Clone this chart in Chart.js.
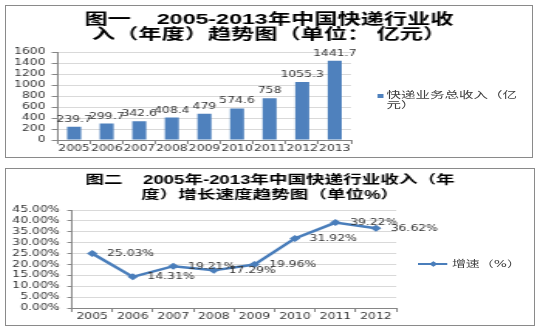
<!DOCTYPE html>
<html><head><meta charset="utf-8">
<script src="https://cdn.jsdelivr.net/npm/chart.js@4.4.0/dist/chart.umd.min.js"></script>
<style>
body{margin:0;background:#fff;width:540px;height:332px;overflow:hidden;position:relative}
.box{position:absolute;border:1px solid #8a8a8a;overflow:hidden;background:#fff}
.st{position:absolute;left:0;top:0;transform-origin:0 0}
.lg{position:absolute;font-family:"DejaVu Sans","Noto Sans CJK SC",sans-serif;color:#404040;white-space:nowrap}
</style></head><body>
<div class="box" style="left:5px;top:5px;width:526px;height:151px">
 <div class="st" id="st1" style="width:340px;height:151px;transform:scaleX(1.5471)">
  <canvas id="c1" width="340" height="151"></canvas>
  <div class="lg" style="left:240px;top:88px;width:4px;height:4px;background:#4F81BD"></div>
  <div class="lg" style="left:246px;top:84px;font-size:9.4px;line-height:10px">快递业务总收入（亿<br>元）</div>
 </div>
</div>
<div class="box" style="left:5px;top:168px;width:528px;height:156px">
 <div class="st" id="st2" style="width:341px;height:156px;transform:scaleX(1.5484)">
  <canvas id="c2" width="341" height="156"></canvas>
  <div class="lg" style="left:266px;top:94px;width:19px;height:2px;background:#4A7EBB"></div>
  <div class="lg" style="left:273.5px;top:92.5px;width:4px;height:4px;background:#4A7EBB;transform:rotate(45deg)"></div>
  <div class="lg" style="left:288px;top:90px;font-size:9px;line-height:10px">增速（%）</div>
 </div>
</div>
<script>
// ---- data ----
const years1 = ['2005','2006','2007','2008','2009','2010','2011','2012','2013'];
const revenue = [239.7, 299.7, 342.6, 408.4, 479, 574.6, 758, 1055.3, 1441.7];
const revenueName = '快递业务总收入（亿元）';
const revenueTitle = ['图一    2005-2013年中国快递行业收', '入（年度）趋势图（单位： 亿元）'];
const revenueAxis = [0, 1600, 200]; // min, max, step

const years2 = ['2005','2006','2007','2008','2009','2010','2011','2012'];
const growth = [25.03, 14.31, 19.21, 17.29, 19.96, 31.92, 39.22, 36.62];
const growthName = '增速（%）';
const growthTitle = ['图二    2005年-2013年中国快递行业收入（年', '度）增长速度趋势图（单位%）'];
const growthAxis = [0, 45, 5];

// ---- styling ----
const FAM = "'DejaVu Sans','Noto Sans CJK SC',sans-serif";
const TFAM = "'Liberation Sans','Noto Sans CJK SC',sans-serif";
const TXT = '#333333';
const AX = '#868686';
const GRID = '#d9d9d9';

function makeLabels(fmt, dx, dy, align) {
  return {
    id: 'valueLabels',
    afterDatasetsDraw(chart) {
      const ctx = chart.ctx;
      const meta = chart.getDatasetMeta(0);
      const data = chart.data.datasets[0].data;
      ctx.save();
      ctx.font = '8px ' + FAM;
      ctx.fillStyle = TXT;
      ctx.textAlign = align;
      ctx.textBaseline = 'middle';
      meta.data.forEach((el, i) => ctx.fillText(fmt(data[i]), el.x + dx, el.y + dy));
      ctx.restore();
    }
  };
}

function spacer(w) {
  return { type: 'linear', position: 'right', display: true,
    grid: { display: false, drawTicks: false }, ticks: { display: false },
    border: { display: false }, afterFit(s) { s.width = w; } };
}

new Chart(document.getElementById('c1'), {
  type: 'bar',
  data: { labels: years1, datasets: [{ label: revenueName, data: revenue, backgroundColor: '#4F81BD',
    barPercentage: 0.43, categoryPercentage: 1 }] },
  options: {
    responsive: false, animation: false, devicePixelRatio: 1,
    layout: { padding: 0 },
    plugins: {
      legend: { display: false }, tooltip: { enabled: false },
      title: { display: true, text: revenueTitle, color: '#000',
        font: { family: TFAM, size: 15, weight: 'bold', lineHeight: 1.0 },
        padding: { top: 6.5, bottom: 9.5 } }
    },
    scales: {
      x: { offset: true,
        grid: { offset: true, drawOnChartArea: false, drawTicks: true, tickLength: 4, color: AX },
        border: { color: AX },
        ticks: { font: { family: FAM, size: 8 }, color: TXT, padding: 0, maxRotation: 0, autoSkip: false },
        afterFit(s) { s.height = 17; } },
      y: { min: revenueAxis[0], max: revenueAxis[1],
        ticks: { stepSize: revenueAxis[2], autoSkip: false, callback: v => String(v), font: { family: FAM, size: 8 }, color: TXT, padding: 4 },
        grid: { color: GRID, tickColor: AX, tickLength: 4 },
        border: { color: AX },
        afterFit(s) { s.width = 33.5; } },
      pad: spacer(117)
    }
  },
  plugins: [makeLabels(v => String(v), 0, -7, 'center')]
});

new Chart(document.getElementById('c2'), {
  type: 'line',
  data: { labels: years2, datasets: [{ label: growthName, data: growth, borderColor: '#4A7EBB',
    backgroundColor: '#4A7EBB', borderWidth: 2.5, tension: 0, pointStyle: 'rectRot', pointRadius: 3.5,
    pointBorderWidth: 0 }] },
  options: {
    responsive: false, animation: false, devicePixelRatio: 1,
    layout: { padding: 0 },
    plugins: {
      legend: { display: false }, tooltip: { enabled: false },
      title: { display: true, text: growthTitle, color: '#000',
        font: { family: TFAM, size: 12, weight: 'bold', lineHeight: 1.25 },
        padding: { top: 4.5, bottom: 6.5 } }
    },
    scales: {
      x: { offset: true,
        grid: { offset: true, drawOnChartArea: false, drawTicks: true, tickLength: 4, color: AX },
        border: { color: AX },
        ticks: { font: { family: FAM, size: 8 }, color: TXT, padding: 0.5, maxRotation: 0, autoSkip: false },
        afterFit(s) { s.height = 17; } },
      y: { min: growthAxis[0], max: growthAxis[1],
        ticks: { stepSize: growthAxis[2], autoSkip: false, callback: v => v.toFixed(2) + '%', font: { family: FAM, size: 8 }, color: TXT, padding: 5 },
        grid: { color: GRID, tickColor: AX, tickLength: 3 },
        border: { color: AX },
        afterFit(s) { s.width = 42.6; } },
      pad: spacer(89)
    }
  },
  plugins: [makeLabels(v => v.toFixed(2) + '%', 9.5, 0.5, 'left')]
});
</script>
</body></html>
